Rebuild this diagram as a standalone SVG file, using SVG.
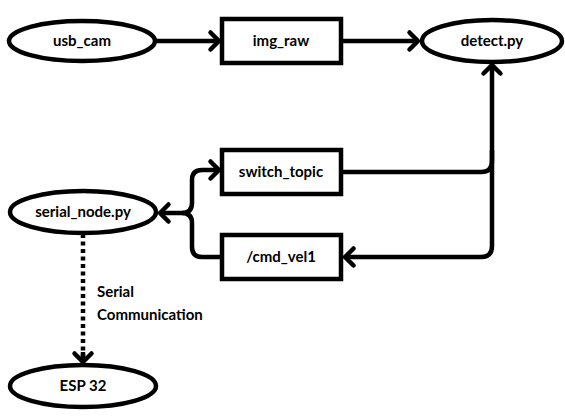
<svg xmlns="http://www.w3.org/2000/svg" width="565" height="416" viewBox="0 0 565 416">
<style>
.node{fill:#fff;stroke:#000;stroke-width:4.5}
.lbl{font-family:Lato,"Open Sans",sans-serif;font-weight:700;font-size:15px;fill:#000;text-anchor:middle;dominant-baseline:central}
.edge{fill:none;stroke:#000;stroke-width:4.5;stroke-linejoin:round}
.dash{fill:none;stroke:#000;stroke-width:4.5;stroke-dasharray:4 3.5}
.note{font-family:Lato,"Open Sans",sans-serif;font-weight:700;font-size:15px;fill:#000}
</style>
<defs>
<marker id="arr" markerUnits="userSpaceOnUse" markerWidth="24" markerHeight="24" viewBox="-12 -12 24 24" refX="0" refY="0" orient="auto">
<path d="M-8.5 -8.5 L0 0 L-8.5 8.5" fill="none" stroke="#000" stroke-width="4.5" stroke-linecap="round" stroke-linejoin="round"/>
</marker>
</defs>
<rect width="565" height="416" fill="#fff"/>
<g id="connectors">
<path class="edge" d="M155 41 H219" marker-end="url(#arr)"/>
<path class="edge" d="M341 41 H418" marker-end="url(#arr)"/>
<path class="edge" d="M341 172 H481 Q492 172 492 161 V65" marker-end="url(#arr)"/>
<path class="edge" d="M492 150 V246 Q492 257 481 257 H345" marker-end="url(#arr)"/>
<path class="edge" d="M222 257 H202 Q192 257 192 247 V223 Q192 213 182 213 H160" marker-end="url(#arr)"/>
<path class="edge" d="M182 213 Q192 213 192 203 V180 Q192 170 202 170 H219" marker-end="url(#arr)"/>
<path class="dash" d="M83 234 V360"/>
<path class="edge" d="M83 352 V362" marker-end="url(#arr)"/>
</g>
<g id="usb_cam"><ellipse class="node" cx="82" cy="41" rx="73" ry="20"/><text class="lbl" x="82" y="40">usb_cam</text></g>
<g id="img_raw"><rect class="node" x="222" y="19" width="119" height="44"/><text class="lbl" x="281" y="40">img_raw</text></g>
<g id="detect_py"><ellipse class="node" cx="492" cy="41" rx="70" ry="21"/><text class="lbl" x="492" y="40">detect.py</text></g>
<g id="switch_topic"><rect class="node" x="222" y="150" width="119" height="44"/><text class="lbl" x="281" y="171">switch_topic</text></g>
<g id="cmd_vel1"><rect class="node" x="222" y="235" width="119" height="44"/><text class="lbl" x="281" y="256">/cmd_vel1</text></g>
<g id="serial_node_py"><ellipse class="node" cx="83" cy="212" rx="73" ry="21"/><text class="lbl" x="83" y="211">serial_node.py</text></g>
<g id="esp32"><ellipse class="node" cx="83" cy="386" rx="73" ry="21"/><text class="lbl" x="83" y="385">ESP 32</text></g>
<text class="note" x="97" y="297">Serial</text>
<text class="note" x="97" y="320">Communication</text>
</svg>
